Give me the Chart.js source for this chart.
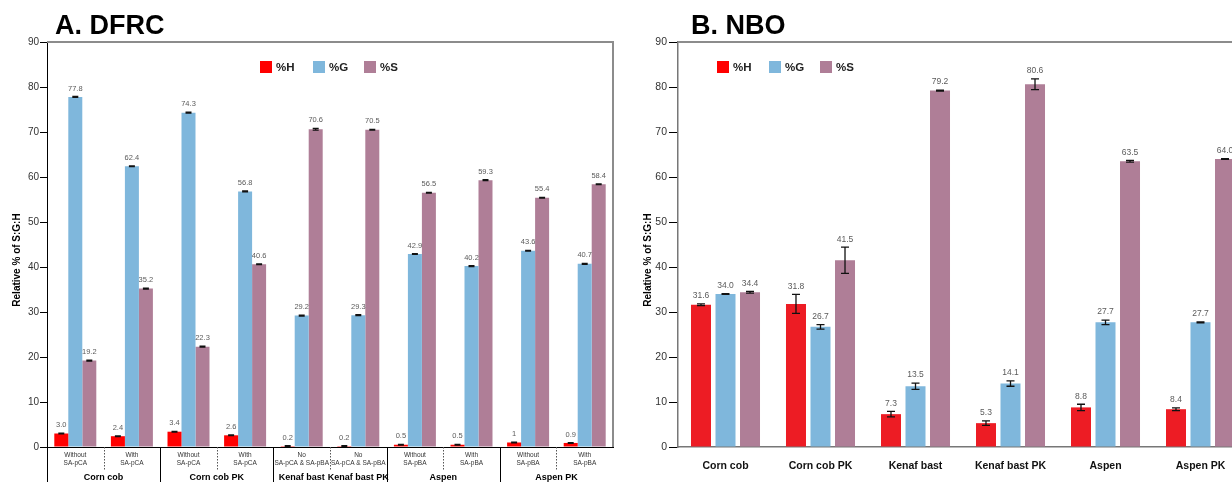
<!DOCTYPE html>
<html>
<head>
<meta charset="utf-8">
<script src="https://cdn.jsdelivr.net/npm/chart.js@4.4.1/dist/chart.umd.min.js"></script>
<style>
  html, body { margin: 0; padding: 0; background: #fff; overflow: hidden; width: 1232px; height: 482px; }
  #wrapA { position: absolute; left: 0; top: 0; width: 620px; height: 482px; }
  #wrapB { position: absolute; left: 620px; top: 0; width: 640px; height: 482px; }
</style>
</head>
<body>
<div id="wrapA"><canvas id="dfrc" width="620" height="482"></canvas></div>
<div id="wrapB"><canvas id="nbo" width="640" height="482"></canvas></div>
<script>
const FONT = '"Liberation Sans", Arial, sans-serif';
Chart.defaults.font.family = FONT;

// ---- A. DFRC ----
const dfrcTicks = [
  ['Without', 'SA-pCA'], ['With', 'SA-pCA'],
  ['Without', 'SA-pCA'], ['With', 'SA-pCA'],
  ['No', 'SA-pCA & SA-pBA'], ['No', 'SA-pCA & SA-pBA'],
  ['Without', 'SA-pBA'], ['With', 'SA-pBA'],
  ['Without', 'SA-pBA'], ['With', 'SA-pBA']
];
const dfrcGroups = ['Corn cob', 'Corn cob', 'Corn cob PK', 'Corn cob PK', 'Kenaf bast',
  'Kenaf bast PK', 'Aspen', 'Aspen', 'Aspen PK', 'Aspen PK'];
const dfrcH = [3.0, 2.4, 3.4, 2.6, 0.2, 0.2, 0.5, 0.5, 1.0, 0.9];
const dfrcG = [77.8, 62.4, 74.3, 56.8, 29.2, 29.3, 42.9, 40.2, 43.6, 40.7];
const dfrcS = [19.2, 35.2, 22.3, 40.6, 70.6, 70.5, 56.5, 59.3, 55.4, 58.4];
const dfrcHText = ['3.0', '2.4', '3.4', '2.6', '0.2', '0.2', '0.5', '0.5', '1', '0.9'];
const dfrcErrH = [0.1, 0.1, 0.1, 0.1, 0.1, 0.1, 0.1, 0.1, 0.1, 0.1];
const dfrcErrG = [0.1, 0.1, 0.1, 0.1, 0.1, 0.1, 0.1, 0.1, 0.1, 0.1];
const dfrcErrS = [0.1, 0.1, 0.1, 0.1, 0.2, 0.1, 0.1, 0.1, 0.1, 0.1];

// ---- B. NBO ----
const nboTicks = ['Corn cob', 'Corn cob PK', 'Kenaf bast', 'Kenaf bast PK', 'Aspen', 'Aspen PK'];
const nboH = [31.6, 31.8, 7.3, 5.3, 8.8, 8.4];
const nboG = [34.0, 26.7, 13.5, 14.1, 27.7, 27.7];
const nboS = [34.4, 41.5, 79.2, 80.6, 63.5, 64.0];
const nboErrH = [0.2, 2.1, 0.6, 0.5, 0.7, 0.3];
const nboErrG = [0.1, 0.5, 0.7, 0.6, 0.5, 0.1];
const nboErrS = [0.2, 2.9, 0.1, 1.2, 0.2, 0.1];

const yTicks = [0, 10, 20, 30, 40, 50, 60, 70, 80, 90];

const colG = '#7fb7dc';
const colS = '#af7e97';

// divider styles under the DFRC axis (between neighbouring categories)
const dfrcDividers = ['dot', 'solid', 'dot', 'solid', 'dot', 'solid', 'dot', 'solid', 'dot'];

const decor = {
  id: 'decor',
  afterDraw(chart, args, o) {
    const ctx = chart.ctx, area = chart.chartArea, x = chart.scales.x;
    ctx.save();
    // top / right frame
    ctx.strokeStyle = '#8c8c8c';
    ctx.lineWidth = 2;
    ctx.beginPath();
    ctx.moveTo(area.left, area.top);
    ctx.lineTo(area.right, area.top);
    ctx.lineTo(area.right, area.bottom);
    ctx.stroke();

    // panel title
    ctx.fillStyle = '#000';
    ctx.font = 'bold 27px ' + FONT;
    ctx.textAlign = 'left';
    ctx.textBaseline = 'alphabetic';
    ctx.fillText(o.title, o.titleX, 34);

    // y title
    ctx.save();
    ctx.translate(o.yTitleX, 260);
    ctx.rotate(-Math.PI / 2);
    ctx.font = 'bold 10px ' + FONT;
    ctx.textAlign = 'center';
    ctx.textBaseline = 'middle';
    ctx.fillText('Relative % of S:G:H', 0, 0);
    ctx.restore();

    // legend
    chart.data.datasets.forEach((ds, i) => {
      const lx = o.legendX[i];
      ctx.fillStyle = ds.legendColor || ds.backgroundColor;
      ctx.fillRect(lx, 61, 12, 12);
      ctx.fillStyle = '#222';
      ctx.font = 'bold 11.5px ' + FONT;
      ctx.textAlign = 'left';
      ctx.textBaseline = 'middle';
      ctx.fillText(ds.label, lx + 16, 67.5);
    });

    // grouped axis for DFRC
    if (o.groups) {
      const n = chart.data.labels.length;
      const edge = i => i === 0 ? area.left : (i === n ? area.right
        : (x.getPixelForValue(i - 1) + x.getPixelForValue(i)) / 2);
      const top = x.top;
      ctx.strokeStyle = '#000';
      ctx.lineWidth = 1;
      ctx.beginPath();
      ctx.moveTo(Math.round(area.left) + 0.5, top);
      ctx.lineTo(Math.round(area.left) + 0.5, 482);
      ctx.stroke();
      for (let i = 1; i < n; i++) {
        const ex = Math.round(edge(i)) + 0.5;
        ctx.beginPath();
        if (o.dividers[i - 1] === 'dot') {
          ctx.strokeStyle = '#555';
          ctx.setLineDash([1.5, 1.5]);
          ctx.moveTo(ex, top);
          ctx.lineTo(ex, 470);
        } else {
          ctx.strokeStyle = '#000';
          ctx.setLineDash([]);
          ctx.moveTo(ex, top);
          ctx.lineTo(ex, 482);
        }
        ctx.stroke();
      }
      ctx.setLineDash([]);
      ctx.fillStyle = '#000';
      ctx.font = 'bold 9px ' + FONT;
      ctx.textAlign = 'center';
      ctx.textBaseline = 'middle';
      let start = 0;
      for (let i = 1; i <= n; i++) {
        if (i === n || o.groups[i] !== o.groups[start]) {
          ctx.fillText(o.groups[start], (edge(start) + edge(i)) / 2, 478);
          start = i;
        }
      }
    }
    ctx.restore();
  }
};

const errorBars = {
  id: 'errorBars',
  afterDatasetsDraw(chart, args, o) {
    const ctx = chart.ctx, y = chart.scales.y;
    ctx.save();
    chart.data.datasets.forEach((ds, di) => {
      chart.getDatasetMeta(di).data.forEach((bar, i) => {
        const v = ds.data[i], e = ds.errors[i];
        const yt = y.getPixelForValue(v + e), yb = y.getPixelForValue(v - e);
        ctx.strokeStyle = '#111';
        ctx.lineWidth = o.lineWidth;
        ctx.beginPath();
        ctx.moveTo(bar.x, yt); ctx.lineTo(bar.x, yb);
        ctx.moveTo(bar.x - o.cap / 2, yt); ctx.lineTo(bar.x + o.cap / 2, yt);
        ctx.moveTo(bar.x - o.cap / 2, yb); ctx.lineTo(bar.x + o.cap / 2, yb);
        ctx.stroke();
        ctx.fillStyle = '#5b5b5b';
        ctx.font = o.labelSize + 'px ' + FONT;
        ctx.textAlign = 'center';
        ctx.textBaseline = 'middle';
        const txt = ds.valueText ? ds.valueText[i] : v.toFixed(1);
        ctx.fillText(txt, bar.x, yt - o.labelGap);
      });
    });
    ctx.restore();
  }
};

new Chart(document.getElementById('dfrc'), {
  type: 'bar',
  data: {
    labels: dfrcTicks,
    datasets: [
      { label: '%H', data: dfrcH, backgroundColor: '#ff0000', errors: dfrcErrH, valueText: dfrcHText },
      { label: '%G', data: dfrcG, backgroundColor: colG, errors: dfrcErrG },
      { label: '%S', data: dfrcS, backgroundColor: colS, errors: dfrcErrS }
    ]
  },
  plugins: [errorBars, decor],
  options: {
    responsive: false,
    animation: false,
    layout: { padding: { top: 42, right: 7, left: 0, bottom: 0 } },
    datasets: { bar: { barPercentage: 1, categoryPercentage: 0.742 } },
    plugins: {
      legend: { display: false },
      tooltip: { enabled: false },
      errorBars: { cap: 6, lineWidth: 1.2, labelSize: 7.5, labelGap: 8 },
      decor: { title: 'A. DFRC', titleX: 55, yTitleX: 17, legendX: [260, 313, 364],
        groups: dfrcGroups, dividers: dfrcDividers }
    },
    scales: {
      x: {
        grid: { display: false, drawTicks: false },
        border: { color: '#000', width: 1 },
        ticks: { font: { size: 6.5, lineHeight: 1.12 }, color: '#333', padding: 5, maxRotation: 0, autoSkip: false },
        afterFit: s => { s.height = 35; }
      },
      y: {
        min: 0, max: 90,
        afterBuildTicks: s => { s.ticks = yTicks.map(v => ({ value: v })); },
        ticks: { font: { size: 10 }, color: '#333', padding: 1 },
        grid: { drawOnChartArea: false, tickLength: 7, color: '#000' },
        border: { color: '#000', width: 1 },
        afterFit: s => { s.width = 47; }
      }
    }
  }
});

new Chart(document.getElementById('nbo'), {
  type: 'bar',
  data: {
    labels: nboTicks,
    datasets: [
      { label: '%H', data: nboH, backgroundColor: '#ed1c24', legendColor: '#ff0000', errors: nboErrH },
      { label: '%G', data: nboG, backgroundColor: colG, errors: nboErrG },
      { label: '%S', data: nboS, backgroundColor: colS, errors: nboErrS }
    ]
  },
  plugins: [errorBars, decor],
  options: {
    responsive: false,
    animation: false,
    layout: { padding: { top: 42, right: 12, left: 0, bottom: 0 } },
    datasets: { bar: { barPercentage: 0.816, categoryPercentage: 0.774 } },
    plugins: {
      legend: { display: false },
      tooltip: { enabled: false },
      errorBars: { cap: 8, lineWidth: 1.3, labelSize: 8.5, labelGap: 8 },
      decor: { title: 'B. NBO', titleX: 71, yTitleX: 28, legendX: [97, 149, 200] }
    },
    scales: {
      x: {
        grid: { display: false, drawTicks: false },
        border: { color: '#777', width: 1.5 },
        ticks: { font: { size: 10.5, weight: 'bold' }, color: '#111', padding: 13, maxRotation: 0, autoSkip: false },
        afterFit: s => { s.height = 35; }
      },
      y: {
        min: 0, max: 90,
        afterBuildTicks: s => { s.ticks = yTicks.map(v => ({ value: v })); },
        ticks: { font: { size: 10.5 }, color: '#333', padding: 2 },
        grid: { drawOnChartArea: false, tickLength: 9, color: '#000' },
        border: { color: '#777', width: 1.5 },
        afterFit: s => { s.width = 58; }
      }
    }
  }
});
</script>
</body>
</html>
